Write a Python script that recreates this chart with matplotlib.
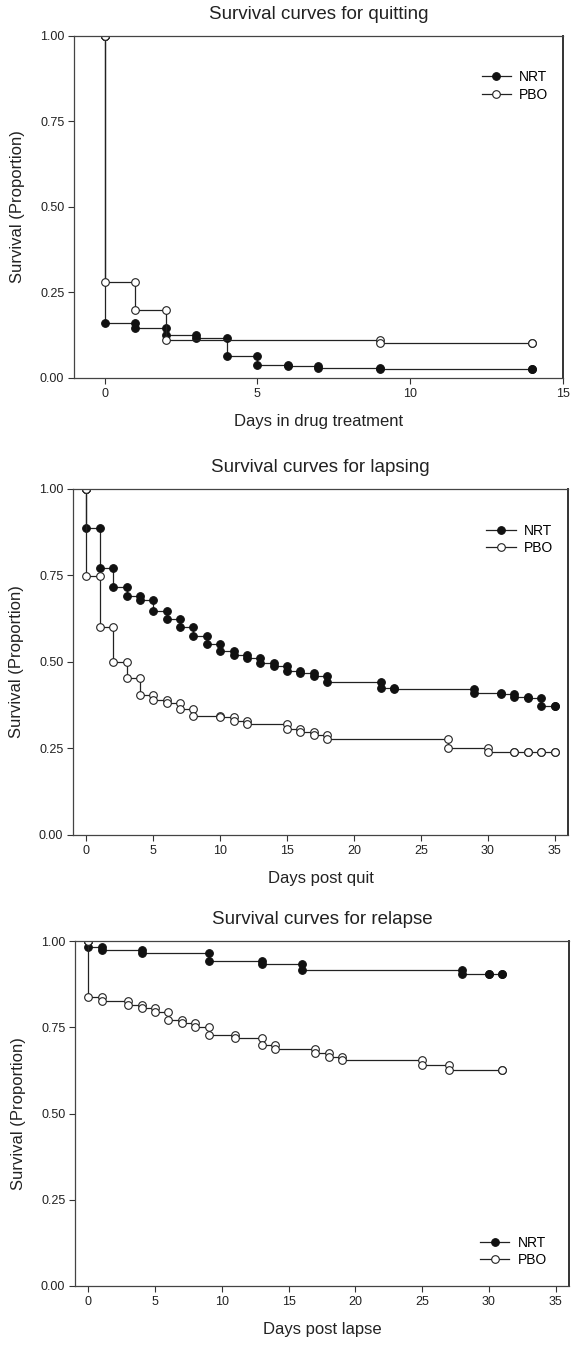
import matplotlib.pyplot as plt
import numpy as np

plt.rcParams['font.family'] = ['Liberation Sans', 'DejaVu Sans']

# Panel 1 - quitting
quit_nrt_days = [0, 1, 2, 3, 4, 5, 6, 7, 9, 14]
quit_nrt_surv = [0.162, 0.147, 0.126, 0.118, 0.065, 0.038, 0.034, 0.029, 0.027, 0.027]
quit_pbo_days = [0, 1, 2, 9, 14]
quit_pbo_surv = [0.280, 0.199, 0.111, 0.103, 0.103]

# Panel 2 - lapsing
lapse_nrt_days = [0, 1, 2, 3, 4, 5, 6, 7, 8, 9, 10, 11, 12, 13, 14, 15, 16, 17, 18,
                  22, 23, 29, 31, 32, 33, 34, 35]
lapse_nrt_surv = [0.886, 0.771, 0.718, 0.691, 0.679, 0.648, 0.624, 0.602, 0.575, 0.552,
                  0.531, 0.521, 0.511, 0.498, 0.489, 0.473, 0.468, 0.459, 0.441,
                  0.424, 0.422, 0.411, 0.406, 0.400, 0.395, 0.372, 0.372]
lapse_pbo_days = [0, 1, 2, 3, 4, 5, 6, 7, 8, 10, 11, 12, 15, 16, 17, 18, 27, 30, 32, 33, 34, 35]
lapse_pbo_surv = [0.747, 0.600, 0.501, 0.453, 0.405, 0.390, 0.380, 0.365, 0.345, 0.340,
                  0.330, 0.320, 0.305, 0.298, 0.289, 0.278, 0.251, 0.241, 0.241, 0.241,
                  0.241, 0.241]

# Panel 3 - relapse
relapse_nrt_days = [0, 1, 4, 9, 13, 16, 28, 30, 31]
relapse_nrt_surv = [0.984, 0.973, 0.965, 0.941, 0.933, 0.916, 0.905, 0.905, 0.905]
relapse_pbo_days = [0, 1, 3, 4, 5, 6, 7, 8, 9, 11, 13, 14, 17, 18, 19, 25, 27, 31]
relapse_pbo_surv = [0.839, 0.827, 0.815, 0.805, 0.793, 0.772, 0.762, 0.750, 0.729, 0.718,
                    0.700, 0.688, 0.675, 0.665, 0.654, 0.641, 0.626, 0.626]

y_ticks = [0.0, 0.25, 0.5, 0.75, 1.0]


def step_points(days, surv):
    # corners of the KM step curve, marker at top and bottom of each drop
    xs = [0]
    ys = [1.0]
    prev = 1.0
    for d, s in zip(days, surv):
        xs += [d, d]
        ys += [prev, s]
        prev = s
    return xs, ys


def make_panel(fig, rect, title, xlabel, nrt, pbo, xlim, xticks, legend_loc, legend_anchor):
    ax = fig.add_axes(rect)

    x, y = step_points(*nrt)
    ax.plot(x, y, color='#222222', lw=0.9, marker='o', markersize=5.5,
            markerfacecolor='#111111', markeredgecolor='#111111', markeredgewidth=0.8,
            label='NRT')
    x, y = step_points(*pbo)
    ax.plot(x, y, color='#222222', lw=0.9, marker='o', markersize=5.5,
            markerfacecolor='white', markeredgecolor='#222222', markeredgewidth=0.8,
            label='PBO')

    ax.set_xlim(*xlim)
    ax.set_ylim(0, 1.0)
    ax.set_xticks(xticks)
    ax.set_yticks(y_ticks)
    ax.set_yticklabels([f"{v:.2f}" for v in y_ticks])
    ax.tick_params(direction='out', length=4, width=0.8, labelsize=9, pad=3,
                   colors='#333333', labelcolor='#222222')

    for side in ['left', 'bottom', 'top']:
        ax.spines[side].set_color('#444444')
        ax.spines[side].set_linewidth(0.9)
    ax.spines['right'].set_color('#333333')
    ax.spines['right'].set_linewidth(1.4)

    ax.set_title(title, fontsize=13.5, color='#222222', pad=12)
    ax.set_xlabel(xlabel, fontsize=12, color='#222222', labelpad=10)
    ax.set_ylabel('Survival (Proportion)', fontsize=12, color='#222222', labelpad=11)

    ax.legend(loc=legend_loc, bbox_to_anchor=legend_anchor, frameon=False, fontsize=10,
              handlelength=2.1, handletextpad=0.6, labelspacing=0.25,
              borderpad=0, borderaxespad=0)
    return ax


fig = plt.figure(figsize=(5.73, 13.48), dpi=100)

make_panel(fig, [0.1291, 0.7196, 0.8534, 0.2537], 'Survival curves for quitting',
           'Days in drug treatment', (quit_nrt_days, quit_nrt_surv),
           (quit_pbo_days, quit_pbo_surv), (-1, 15), [0, 5, 10, 15],
           'upper right', (0.97, 0.90))

make_panel(fig, [0.1274, 0.3806, 0.8639, 0.2567], 'Survival curves for lapsing',
           'Days post quit', (lapse_nrt_days, lapse_nrt_surv),
           (lapse_pbo_days, lapse_pbo_surv), (-1, 36), [0, 5, 10, 15, 20, 25, 30, 35],
           'upper right', (0.97, 0.90))

make_panel(fig, [0.1309, 0.0460, 0.8621, 0.2559], 'Survival curves for relapse',
           'Days post lapse', (relapse_nrt_days, relapse_nrt_surv),
           (relapse_pbo_days, relapse_pbo_surv), (-1, 36), [0, 5, 10, 15, 20, 25, 30, 35],
           'lower right', (0.955, 0.055))

plt.savefig('out.png', dpi=100)
